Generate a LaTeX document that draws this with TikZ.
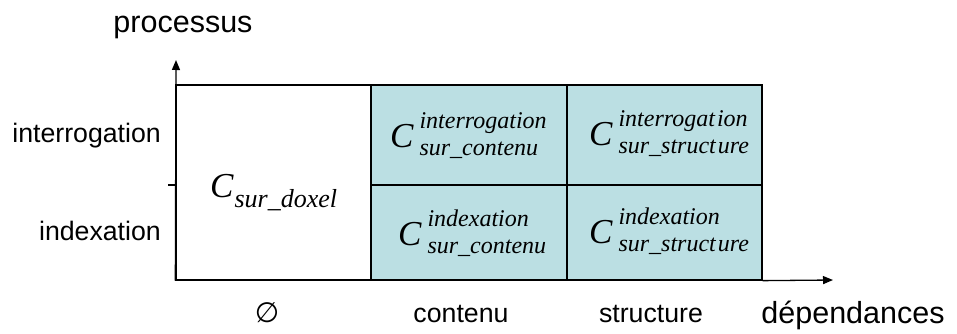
\documentclass[tikz,border=0pt]{standalone}
\usepackage{fontspec}
\setmainfont{Liberation Sans}
\newfontfamily\eqfont{Liberation Serif}
\usetikzlibrary{arrows.meta}
\definecolor{cellteal}{RGB}{187,223,227}
\newcommand\bigC{{\eqfont\itshape\fontsize{35}{35}\selectfont C}}
\newcommand\scr{\eqfont\itshape\fontsize{24}{24}\selectfont}
\newcommand\CSup[2]{\bigC\kern6pt\rlap{\raisebox{19pt}{\scr #1}}\raisebox{-8pt}{\scr #2}}
\tikzset{
  cellbox/.style={draw=black, line width=1.3pt, rectangle, inner sep=0pt},
  tealcell/.style={cellbox, fill=cellteal},
  lbl/.style={inner sep=0pt, font=\fontsize{26.7}{30}\selectfont},
  biglbl/.style={inner sep=0pt, font=\fontsize{30.5}{34}\selectfont},
  eq/.style={inner sep=0pt, anchor=base west},
  axis/.style={line width=1.3pt, -{Triangle[length=10pt,width=8pt]}}
}
\begin{document}
\begin{tikzpicture}[x=1pt,y=-1pt]
\useasboundingbox (0,0) rectangle (957,334);
% cells
\node[cellbox, fill=white, minimum width=195pt, minimum height=195pt] (c0) at (273.5,182.5) {};
\node[tealcell, minimum width=196pt, minimum height=100pt] (c1i) at (469,135) {};
\node[tealcell, minimum width=196pt, minimum height=95pt] (c1x) at (469,232.5) {};
\node[tealcell, minimum width=195pt, minimum height=100pt] (c2i) at (664.5,135) {};
\node[tealcell, minimum width=195pt, minimum height=95pt] (c2x) at (664.5,232.5) {};
% axes
\coordinate (ytop) at (176,60);
\coordinate (xend) at (833,280);
\coordinate (tickl) at (168,185);
\coordinate (tickr) at (176,185);
\draw[axis] (c0.south west) -- (ytop);
\draw[axis] (c2x.south east) -- (xend);
\draw[line width=1.3pt] (tickl) -- (tickr);
% cell formulas
\node[eq] (f0) at (210,197) {\bigC\kern1pt\raisebox{-10pt}{{\scr\fontsize{26}{26}\selectfont sur\_doxel}}};
\node[eq] (f1i) at (390,147) {\CSup{interrogation}{sur\_contenu}};
\node[eq] (f1x) at (398,245) {\CSup{indexation}{sur\_contenu}};
\node[eq] (f2i) at (589,145) {\CSup{interrogat\kern2pt ion}{sur\_struct\kern2pt ure}};
\node[eq] (f2x) at (589,243) {\CSup{indexation}{sur\_struct\kern2pt ure}};
% axis labels
\node[biglbl, anchor=base] (proc) at (183,33) {processus};
\node[lbl, anchor=base east] (interr) at (161,142) {interrogation};
\node[lbl, anchor=base east] (index) at (161,240) {indexation};
\node[lbl, anchor=base] (vide) at (267,322) {\fontspec{DejaVu Sans}\fontsize{28}{30}\selectfont ∅};
\node[lbl, anchor=base] (cont) at (461,322) {contenu};
\node[lbl, anchor=base] (struc) at (651,322) {structure};
\node[biglbl, anchor=base] (dep) at (853,323) {dépendances};
\end{tikzpicture}
\end{document}
